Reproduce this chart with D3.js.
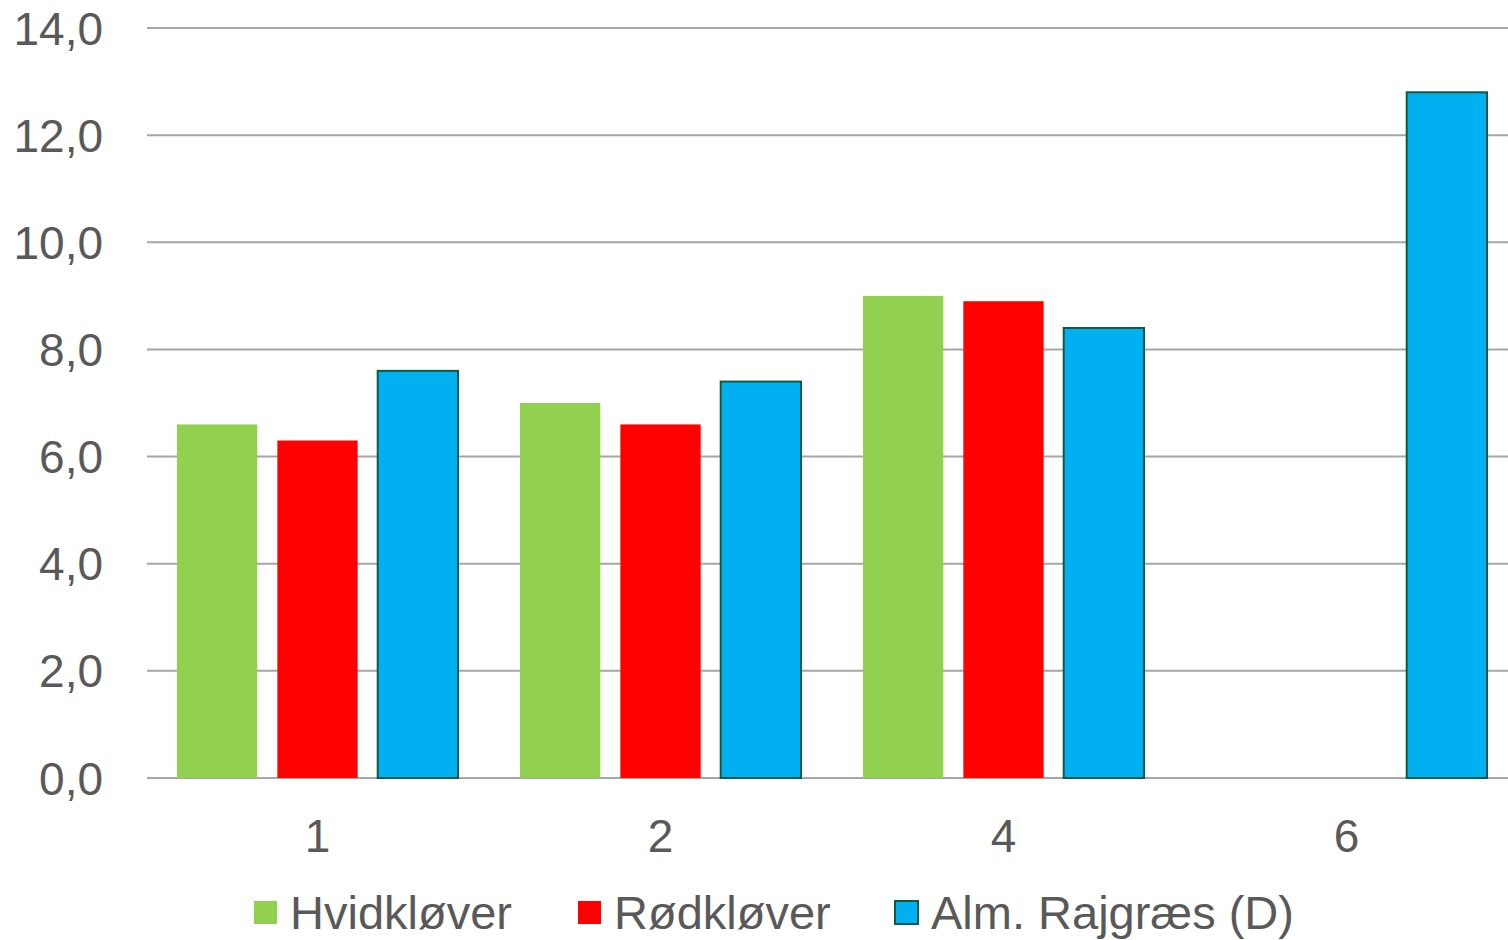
<!DOCTYPE html>
<html>
<head>
<meta charset="utf-8">
<script src="https://cdn.jsdelivr.net/npm/d3@7"></script>
<style>
  body { margin: 0; background: #fff; }
  svg { display: block; font-family: "Liberation Sans", Arial, sans-serif; }
</style>
</head>
<body>
<svg></svg>
<script>
// chart data
const categories = ["1", "2", "4", "6"];
const seriesNames = ["Hvidkløver", "Rødkløver", "Alm. Rajgræs (D)"];
const hvidklover = [6.6, 7.0, 9.0, null];
const rodklover = [6.3, 6.6, 8.9, null];
const rajgraes = [7.6, 7.4, 8.4, 12.8];
const yTicks = [0, 2, 4, 6, 8, 10, 12, 14];

const colors = ["#92D050", "#FF0000", "#00B0F0"];
const strokes = [null, null, "#0D5B45"];

const width = 1508;
const height = 940;
const margin = { top: 28, bottom: 162, left: 147 };

const svg = d3.select("svg").attr("width", width).attr("height", height);

const series = [hvidklover, rodklover, rajgraes];

// category bands are ~343px wide; the last one runs past the right edge
const x = d3.scaleBand()
            .domain(categories)
            .range([146, 146 + 4 * 343]);

const x1 = d3.scaleBand()
             .domain(d3.range(series.length))
             .range([31, x.bandwidth() - 31])
             .paddingInner(0.2);

const y = d3.scaleLinear()
            .domain([0, 14])
            .range([height - margin.bottom, margin.top]);

// gridlines
svg.append("g")
   .selectAll("line")
   .data(yTicks)
   .join("line")
   .attr("x1", margin.left)
   .attr("x2", width)
   .attr("y1", d => y(d))
   .attr("y2", d => y(d))
   .attr("stroke", "#A6A6A6")
   .attr("stroke-width", 2);

// y labels
svg.append("g")
   .selectAll("text")
   .data(yTicks)
   .join("text")
   .attr("x", 103)
   .attr("y", d => y(d))
   .attr("dy", "0.36em")
   .attr("text-anchor", "end")
   .attr("font-size", 46)
   .attr("fill", "#595959")
   .text(d => d3.format(".1f")(d).replace(".", ","));

// bars
series.forEach((vals, s) => {
  svg.append("g")
     .selectAll("rect")
     .data(vals.map((v, i) => ({ cat: categories[i], v })).filter(d => d.v != null))
     .join("rect")
     .attr("x", d => x(d.cat) + x1(s))
     .attr("y", d => y(d.v))
     .attr("width", x1.bandwidth())
     .attr("height", d => y(0) - y(d.v))
     .attr("fill", colors[s])
     .attr("stroke", strokes[s] || "none")
     .attr("stroke-width", 2);
});

// x labels
svg.append("g")
   .selectAll("text")
   .data(categories)
   .join("text")
   .attr("x", d => x(d) + x.bandwidth() / 2)
   .attr("y", 852)
   .attr("text-anchor", "middle")
   .attr("font-size", 46)
   .attr("fill", "#595959")
   .text(d => d);

// legend
const legendX = [254, 578, 895];
const legend = svg.append("g");
seriesNames.forEach((name, s) => {
  legend.append("rect")
        .attr("x", legendX[s])
        .attr("y", 901)
        .attr("width", 23)
        .attr("height", 23)
        .attr("fill", colors[s])
        .attr("stroke", strokes[s] || "none")
        .attr("stroke-width", 2);
  legend.append("text")
        .attr("x", legendX[s] + 36)
        .attr("y", 929)
        .attr("font-size", 47)
        .attr("fill", "#595959")
        .text(name);
});
</script>
</body>
</html>
